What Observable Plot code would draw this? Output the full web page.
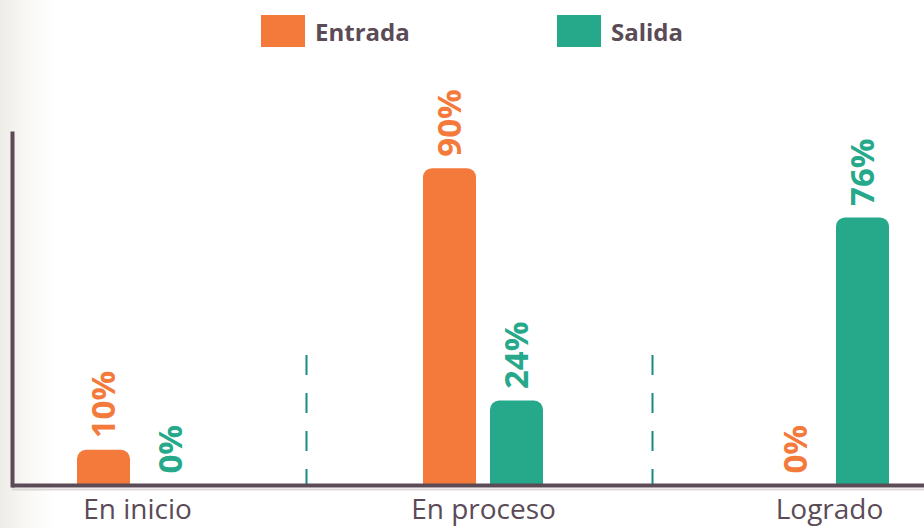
<!DOCTYPE html>
<html><head><meta charset="utf-8">
<script src="https://cdn.jsdelivr.net/npm/d3@7"></script>
<script src="https://cdn.jsdelivr.net/npm/@observablehq/plot@0.6"></script>
<style>
body{margin:0;width:924px;height:528px;overflow:hidden;background:linear-gradient(to right,#eeece7 0px,#f8f7f4 25px,#ffffff 55px);font-family:"Open Sans",sans-serif;}
#legend{height:62px;position:relative;}
.item{position:absolute;top:15px;display:flex;align-items:center;height:32px;}
.sw{width:44px;height:32px;}
.lab{margin-left:10px;font-weight:700;font-size:24px;color:#5b4b57;}
</style></head><body>
<div id="legend"></div>
<div id="chart"></div>
<script>
const categories = ["En inicio", "En proceso", "Logrado"];
const series = ["Entrada", "Salida"];
const entrada = [10, 90, 0];
const salida = [0, 24, 76];
const colors = ["#F47A3B", "#26A88B"];

const legendLeft = [261, 557];
const legend = document.getElementById("legend");
series.forEach((s, k) => {
  const it = document.createElement("div");
  it.className = "item";
  it.style.left = legendLeft[k] + "px";
  it.innerHTML = `<div class="sw" style="background:${colors[k]}"></div><div class="lab">${s}</div>`;
  legend.appendChild(it);
});

const data = categories.flatMap((c, i) => [
  {category: c, series: "Entrada", value: entrada[i]},
  {category: c, series: "Salida", value: salida[i]}
]);

const step = 346, barW = 53, off = 33.5, c0 = 137;
const ink = "#5b4b57";

const chart = Plot.plot({
  width: 924, height: 466,
  marginLeft: 12, marginRight: 0, marginTop: 71, marginBottom: 43,
  style: {background: "transparent", fontFamily: "Open Sans", overflow: "visible"},
  x: {domain: categories, range: [c0 - step / 2, c0 + step * 2.5], padding: 0, label: null},
  y: {domain: [0, 100], axis: null},
  marks: [
    Plot.ruleX(categories.slice(1), {x: d => d, dx: -step / 2 - 4, insetTop: 222, stroke: "#1b8a87", strokeWidth: 2, strokeDasharray: "20,18"}),
    ...series.map((s, k) => Plot.barY(data.filter(d => d.series === s && d.value > 0), {
      x: "category", y: "value", fill: colors[k],
      insetLeft: (step - barW) / 2, insetRight: (step - barW) / 2,
      dx: k ? off : -off, ry1: 9
    })),
    ...series.map((s, k) => Plot.text(data.filter(d => d.series === s), {
      x: "category", y: "value", text: d => d.value + "%",
      rotate: -90, textAnchor: "start", dx: k ? off : -off, dy: -12,
      fill: colors[k], fontSize: 33, fontWeight: 700
    })),
    Plot.ruleY([0], {stroke: "#dcd8d8", strokeWidth: 2, dy: 4}),
    Plot.ruleY([0], {stroke: ink, strokeWidth: 4}),
    Plot.frame({anchor: "left", stroke: ink, strokeWidth: 4}),
    Plot.axisX({tickSize: 0, tickPadding: 14, fontSize: 28, fill: ink, label: null})
  ]
});
document.getElementById("chart").appendChild(chart);
</script>
</body></html>
